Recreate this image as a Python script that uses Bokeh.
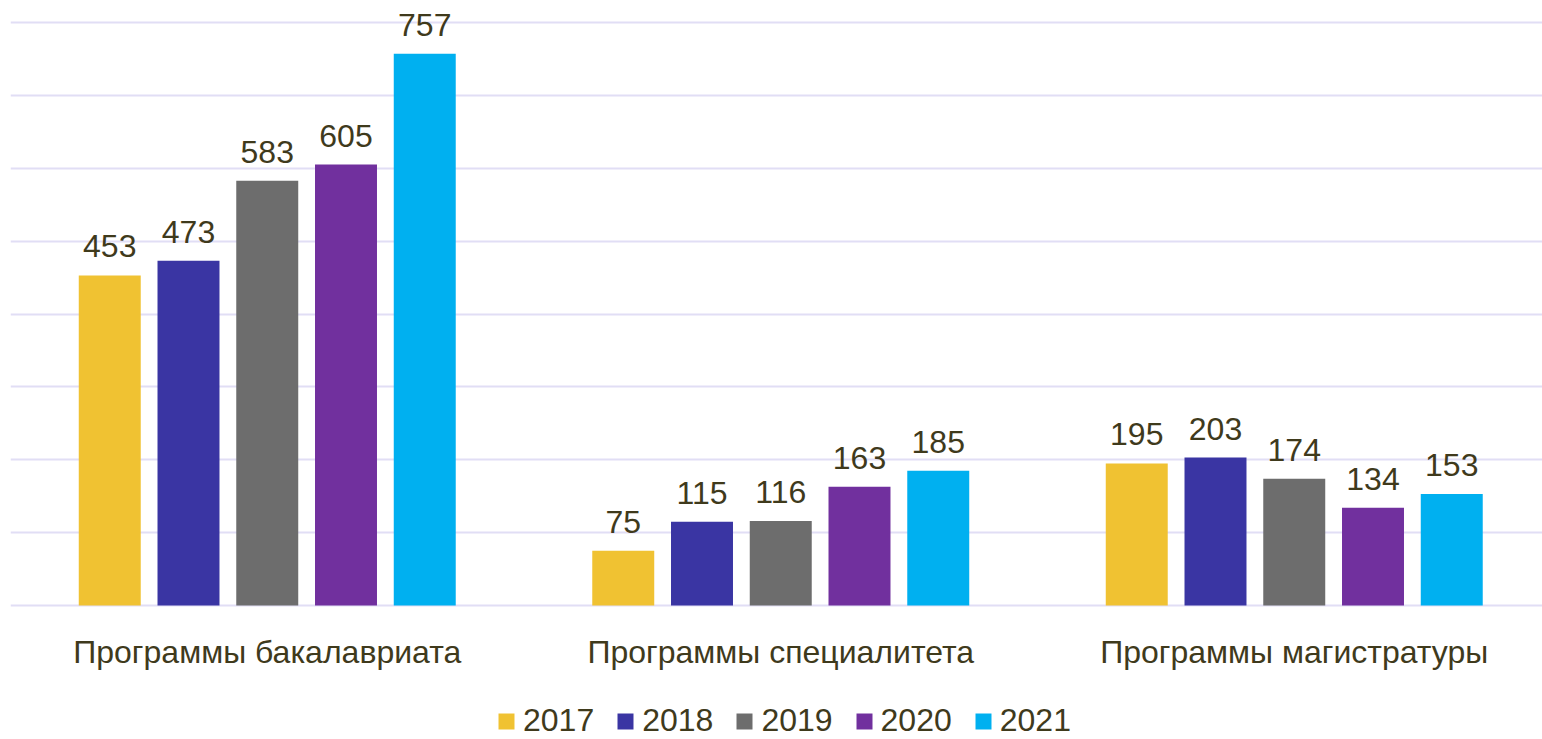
from bokeh.plotting import figure
from bokeh.models import (ColumnDataSource, Range1d, FixedTicker, Grid,
                          LabelSet, Legend, LegendItem)
from bokeh.core.properties import value
from bokeh.embed import file_html
from bokeh.resources import INLINE

categories = ["Программы бакалавриата", "Программы специалитета", "Программы магистратуры"]
years = ["2017", "2018", "2019", "2020", "2021"]
v2017 = [453, 75, 195]
v2018 = [473, 115, 203]
v2019 = [583, 116, 174]
v2020 = [605, 163, 134]
v2021 = [757, 185, 153]
series = [v2017, v2018, v2019, v2020, v2021]
colors = ["#F0C232", "#3A35A3", "#6D6D6D", "#71309E", "#00B0F0"]
y_ticks = [0, 100, 200, 300, 400, 500, 600, 700, 800]

FONT = "Liberation Sans"
TXT = "#3F3A1C"
FS = "32px"

# frame covers the whole canvas; 0 sits at y=605px, 800 at y=22px
ppu = (605 - 22) / 800.0
p = figure(width=1542, height=739, output_backend="svg", toolbar_location=None,
           x_range=Range1d(0, 1532 / 513.5),
           y_range=Range1d(-(739 - 605) / ppu, 800 + 22 / ppu),
           min_border_left=10, min_border_right=0, min_border_top=0, min_border_bottom=0,
           x_axis_type=None, y_axis_type=None)
p.outline_line_color = None
p.background_fill_color = "white"
p.border_fill_color = "white"

# horizontal gridlines
p.add_layout(Grid(dimension=1, ticker=FixedTicker(ticks=y_ticks),
                  grid_line_color="#E1DEF5", grid_line_width=2))

# category labels (below baseline)
cat_src = ColumnDataSource(dict(x=[i + 0.5 for i in range(len(categories))],
                                y=[0] * len(categories), t=categories))
p.add_layout(LabelSet(x="x", y="y", text="t", source=cat_src, y_offset=-57,
                      text_align="center", text_baseline="alphabetic",
                      text_font=value(FONT), text_font_size=value(FS), text_color=TXT))

step = 0.15336
bw = 0.1207
items = []
for j, (yr, vals, col) in enumerate(zip(years, series, colors)):
    xs = [i + 0.5 + (j - 2) * step for i in range(len(categories))]
    src = ColumnDataSource(dict(x=xs, top=vals, lbl=[str(v) for v in vals]))
    r = p.vbar(x="x", top="top", bottom=0, width=bw, source=src,
               fill_color=col, line_color=None)
    items.append(LegendItem(label=yr, renderers=[r]))
    p.add_layout(LabelSet(x="x", y="top", text="lbl", source=src, y_offset=18,
                          text_align="center", text_baseline="alphabetic",
                          text_font=value(FONT), text_font_size=value(FS), text_color=TXT))

legend = Legend(items=items, orientation="horizontal", location=(486, 0),
                glyph_width=20, glyph_height=20, label_standoff=7, spacing=21,
                padding=0, margin=0, border_line_color=None, background_fill_alpha=0,
                label_text_font=FONT, label_text_font_size=FS, label_text_color=TXT)
p.add_layout(legend, "center")

open("out.html", "w").write(file_html(p, INLINE))
